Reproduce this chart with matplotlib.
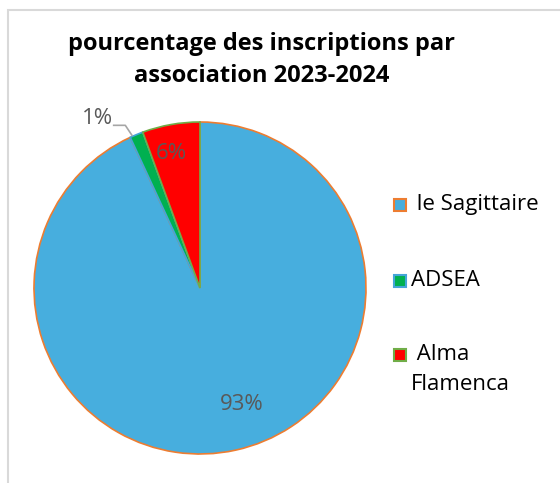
import matplotlib.pyplot as plt
from matplotlib.patches import Rectangle

plt.rcParams['font.family'] = ['Open Sans', 'DejaVu Sans']

associations = ['le Sagittaire', 'ADSEA', 'Alma\nFlamenca']
legend_labels = [' le Sagittaire', 'ADSEA', ' Alma\nFlamenca']
pourcentages = [93.1, 1.3, 5.6]
fill_colors = ['#47AEDE', '#00B050', '#FF0000']
edge_colors = ['#ED7D31', '#45A5D8', '#70AD47']

W, H = 560, 483
fig = plt.figure(figsize=(W / 100, H / 100), dpi=100)

# light grey chart-area frame
fig.patches.append(Rectangle((8 / W, -0.1), 1.2, 1 - 10 / H + 0.1,
                             transform=fig.transFigure, fill=False,
                             edgecolor='#D9D9D9', linewidth=1.5))

ax = fig.add_axes([33 / W, 1 - 454 / H, 334 / W, 332 / H])
wedges, _ = ax.pie(pourcentages, startangle=90, counterclock=False,
                   colors=fill_colors, radius=1,
                   wedgeprops=dict(linewidth=1.2))
for w, ec in zip(wedges, edge_colors):
    w.set_edgecolor(ec)
ax.set_xlim(-1.0, 1.0)
ax.set_ylim(-1.0, 1.0)
ax.set_aspect('equal')
ax.axis('off')

lab_color = '#595959'
ax.text(0.25, -0.70, f'{round(pourcentages[0])}%', ha='center', va='center',
        fontsize=16, color=lab_color)
ax.text(-0.17, 0.81, f'{round(pourcentages[2])}%', ha='center', va='center',
        fontsize=16, color=lab_color)
ax.text(-0.62, 1.02, f'{round(pourcentages[1])}%', ha='center', va='center',
        fontsize=16, color=lab_color)
ax.plot([-0.52, -0.45, -0.41], [0.98, 0.98, 0.92], color='#A6A6A6',
        linewidth=1.2, clip_on=False)

fig.text(262 / W, 1 - 60 / H,
         'pourcentage des inscriptions par\nassociation 2023-2024',
         ha='center', va='center', fontsize=17, fontweight='bold',
         linespacing=1.5)

# legend drawn by hand so the square sits on the first text line
leg_y = [205, 281, 355]
for lab, fc, ec, y in zip(legend_labels, fill_colors, edge_colors, leg_y):
    fig.patches.append(Rectangle((394 / W, 1 - (y + 6) / H), 12 / W, 12 / H,
                                 transform=fig.transFigure, facecolor=fc,
                                 edgecolor=ec, linewidth=1.5))
    fig.text(411 / W, 1 - (y - 11) / H, lab, ha='left', va='top',
             fontsize=16, color='black', linespacing=1.55)

fig.savefig('out.png', dpi=100)
